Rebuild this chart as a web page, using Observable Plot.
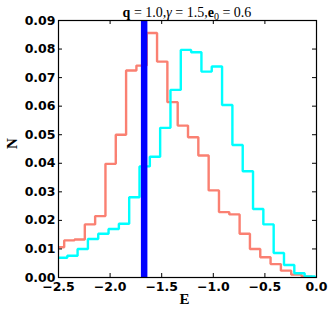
<!DOCTYPE html>
<html>
<head>
<meta charset="utf-8">
<script src="https://cdn.jsdelivr.net/npm/d3@7"></script>
<script src="https://cdn.jsdelivr.net/npm/@observablehq/plot@0.6"></script>
<style>
  html, body { margin: 0; padding: 0; background: #fff; }
  svg { display: block; }
</style>
</head>
<body>
<div id="chart"></div>
<script>
// ---- data ----
const redEdges = [-2.545, -2.445, -2.345, -2.245, -2.145, -2.045, -1.945, -1.845, -1.745, -1.645,
                  -1.545, -1.445, -1.345, -1.245, -1.145, -1.045, -0.945, -0.845, -0.745, -0.645,
                  -0.545, -0.445, -0.345, -0.245, -0.145, -0.045];
const redValues = [0.0106, 0.0130, 0.0133, 0.0186, 0.0215, 0.0398, 0.0500, 0.0725, 0.0742, 0.0856,
                   0.0756, 0.0614, 0.0532, 0.0491, 0.0427, 0.0305, 0.0229, 0.0221, 0.0153, 0.0100,
                   0.0071, 0.0047, 0.0024, 0.0010, 0.0004];
const cyanEdges = [-2.515, -2.415, -2.315, -2.215, -2.115, -2.015, -1.915, -1.815, -1.715, -1.615,
                   -1.515, -1.415, -1.315, -1.215, -1.115, -1.015, -0.915, -0.815, -0.715, -0.615,
                   -0.515, -0.415, -0.315, -0.215, -0.115, -0.015];
const cyanValues = [0.0069, 0.0076, 0.0100, 0.0135, 0.0153, 0.0170, 0.0188, 0.0281, 0.0389, 0.0423,
                    0.0524, 0.0657, 0.0797, 0.0789, 0.0721, 0.0739, 0.0604, 0.0464, 0.0372, 0.0240,
                    0.0186, 0.0086, 0.0044, 0.0015, 0.0004];
const markerE = [-1.67];
const xDomain = [-2.5, 0.0];
const yDomain = [0, 0.09];
const xTicks = [-2.5, -2.0, -1.5, -1.0, -0.5, 0.0];
const xTickLabels = ["\u22122.5", "\u22122.0", "\u22121.5", "\u22121.0", "\u22120.5", "0.0"];
const yTicks = [0.00, 0.01, 0.02, 0.03, 0.04, 0.05, 0.06, 0.07, 0.08, 0.09];
const yTickLabels = ["0.00", "0.01", "0.02", "0.03", "0.04", "0.05", "0.06", "0.07", "0.08", "0.09"];
const xLabel = "E";
const yLabel = "N";

// ---- step outline like a matplotlib 'step' histogram ----
function stepPoints(edges, values) {
  const pts = [{x: edges[0], y: 0}];
  values.forEach((v, i) => {
    pts.push({x: edges[i], y: v});
    pts.push({x: edges[i + 1], y: v});
  });
  pts.push({x: edges[values.length], y: 0});
  return pts;
}
const redPts = stepPoints(redEdges, redValues);
const cyanPts = stepPoints(cyanEdges, cyanValues);

const W = 332, H = 317;
const mL = 58, mR = 16, mT = 20, mB = 40;
const plotW = W - mL - mR, plotH = H - mT - mB;
const tick = 4;

const chart = Plot.plot({
  width: W, height: H,
  marginLeft: mL, marginRight: mR, marginTop: mT, marginBottom: mB,
  style: {background: "#fff", overflow: "visible"},
  x: {domain: xDomain},
  y: {domain: yDomain},
  marks: [
    Plot.line(redPts, {x: "x", y: "y", stroke: "#fa8072", strokeWidth: 2.4, strokeLinejoin: "miter", strokeLinecap: "butt", clip: true}),
    Plot.line(cyanPts, {x: "x", y: "y", stroke: "#00ffff", strokeWidth: 2.4, strokeLinejoin: "miter", strokeLinecap: "butt", clip: true}),
    Plot.ruleX(markerE, {x: d => d, stroke: "#0000ff", strokeWidth: 6.5}),
    // inward ticks on all four sides
    Plot.ruleX(xTicks, {x: d => d, insetTop: plotH - tick, stroke: "black", strokeWidth: 1}),
    Plot.ruleX(xTicks, {x: d => d, insetBottom: plotH - tick, stroke: "black", strokeWidth: 1}),
    Plot.ruleY(yTicks, {y: d => d, insetRight: plotW - tick, stroke: "black", strokeWidth: 1}),
    Plot.ruleY(yTicks, {y: d => d, insetLeft: plotW - tick, stroke: "black", strokeWidth: 1}),
    Plot.frame({stroke: "black", strokeWidth: 1.2}),
    Plot.axisX({ticks: xTicks, tickSize: 0, tickPadding: 5, tickFormat: (d, i) => xTickLabels[i],
                fontSize: 12.5, fontWeight: "bold", fontFamily: "DejaVu Sans", fill: "black", label: null}),
    Plot.axisY({ticks: yTicks, tickSize: 0, tickPadding: 3, tickFormat: (d, i) => yTickLabels[i],
                fontSize: 12.5, fontWeight: "bold", fontFamily: "DejaVu Sans", fill: "black", label: null}),
    Plot.text([yLabel], {text: d => d, frameAnchor: "left", dx: -46, rotate: -90,
                fontSize: 15, fontWeight: "bold", fontFamily: "Liberation Serif", fill: "black"}),
    Plot.text([xLabel], {text: d => d, frameAnchor: "bottom", dx: -3, dy: 26,
                fontSize: 15, fontWeight: "bold", fontFamily: "Liberation Serif", fill: "black"})
  ]
});

// title with mixed bold/subscript text
const svg = d3.select(chart);
const t = svg.append("text")
  .attr("x", mL + plotW / 2).attr("y", mT - 3)
  .attr("text-anchor", "middle")
  .attr("font-family", "Liberation Serif")
  .attr("font-size", 14)
  .attr("fill", "black");
t.append("tspan").attr("font-weight", "bold").text("q");
t.append("tspan").text(" = 1.0,");
t.append("tspan").attr("font-style", "italic").text("\u03b3");
t.append("tspan").text(" = 1.5,");
t.append("tspan").attr("font-weight", "bold").text("e");
t.append("tspan").attr("font-size", 10).attr("dy", 3).text("0");
t.append("tspan").attr("dy", -3).text(" = 0.6");

document.getElementById("chart").appendChild(chart);
</script>
</body>
</html>
